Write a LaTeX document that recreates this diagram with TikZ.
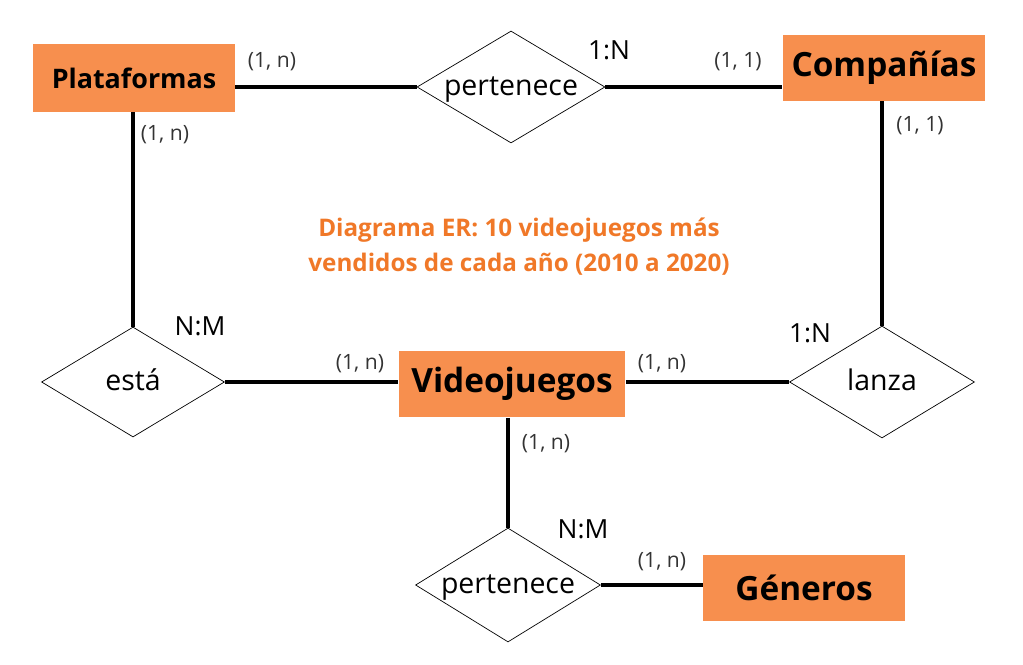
\documentclass[tikz,border=0pt]{standalone}
\usepackage{fontspec}
\setmainfont{Open Sans}
\usetikzlibrary{shapes.geometric}
\definecolor{boxorange}{RGB}{247,143,78}
\definecolor{titleorange}{RGB}{240,120,40}
\newcommand{\rellabel}[1]{\raisebox{-.55ex}[0pt][0pt]{\makebox[0pt]{#1}}}
\tikzset{
  entity/.style={fill=boxorange, font=\bfseries\fontsize{19}{21}\selectfont, inner sep=0pt},
  relation/.style={diamond, draw, thin, inner sep=0pt, font=\fontsize{16.2}{18}\selectfont},
  link/.style={line width=2.3pt},
  card/.style={font=\fontsize{12}{14}\selectfont, text=black!80},
  ratio/.style={font=\fontsize{15}{17}\selectfont}
}
\begin{document}
\begin{tikzpicture}[x=0.02cm, y=-0.02cm]
\useasboundingbox (0,0) rectangle (1023,665);

\node[entity, minimum width=4.04cm, minimum height=1.36cm, font=\bfseries\fontsize{15.3}{17}\selectfont] (plataformas) at (134,78) {Plataformas};
\node[entity, minimum width=4.06cm, minimum height=1.32cm] (companias) at (884,68) {Compañías};
\node[entity, minimum width=4.54cm, minimum height=1.34cm] (videojuegos) at (512,384) {Videojuegos};
\node[entity, minimum width=4.04cm, minimum height=1.32cm] (generos) at (804,588) {Géneros};

\node[relation, minimum width=3.76cm, minimum height=2.24cm] (pertenece) at (511,87) {\rellabel{pertenece}};
\node[relation, minimum width=3.66cm, minimum height=2.2cm] (esta) at (133,382) {\rellabel{está}};
\node[relation, minimum width=3.7cm, minimum height=2.24cm] (lanza) at (882,382) {\rellabel{lanza}};
\node[relation, minimum width=3.7cm, minimum height=2.28cm] (perteneceg) at (508,585) {\rellabel{pertenece}};

\draw[link] (plataformas.east |- pertenece.west) -- (pertenece.west);
\draw[link] (pertenece.east) -- (pertenece.east -| companias.west);
\draw[link] (plataformas.south -| esta.north) -- (esta.north);
\draw[link] (companias.south -| lanza.north) -- (lanza.north);
\draw[link] (esta.east) -- (esta.east -| videojuegos.west);
\draw[link] (videojuegos.east |- lanza.west) -- (lanza.west);
\draw[link] (videojuegos.south -| perteneceg.north) -- (perteneceg.north);
\draw[link] (perteneceg.east) -- (perteneceg.east -| generos.west);

\node[card] (c1) at (272,62) {(1, n)};
\node[ratio] (c2) at (609,50) {1:N};
\node[card] (c3) at (738,62) {(1, 1)};
\node[card] (c4) at (920,126) {(1, 1)};
\node[card] (c5) at (165,135) {(1, n)};
\node[ratio] (c6) at (200,326) {N:M};
\node[card] (c7) at (360,364) {(1, n)};
\node[card] (c8) at (662,364) {(1, n)};
\node[ratio] (c9) at (810,333) {1:N};
\node[card] (c10) at (546,444) {(1, n)};
\node[ratio] (c11) at (583,529) {N:M};
\node[card] (c12) at (662,562) {(1, n)};

\node[align=center, text=titleorange, font=\bfseries\fontsize{13.8}{20}\selectfont] (title) at (519,247) {Diagrama ER: 10 videojuegos más\\vendidos de cada año (2010 a 2020)};
\end{tikzpicture}
\end{document}
